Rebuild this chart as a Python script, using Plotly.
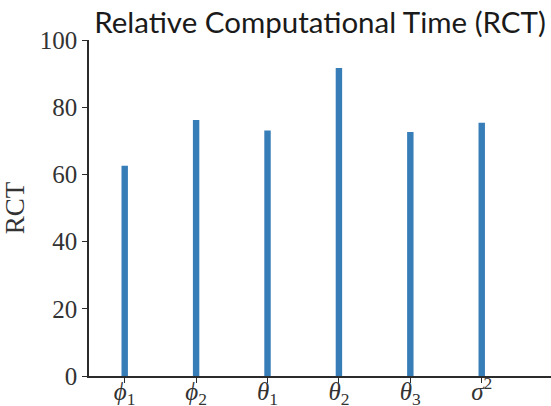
import plotly.graph_objects as go

categories = ["ϕ1", "ϕ2", "θ1", "θ2", "θ3", "σ2"]
tick_labels = ["<i>ϕ</i><sub>1</sub>", "<i>ϕ</i><sub>2</sub>", "<i>θ</i><sub>1</sub>",
               "<i>θ</i><sub>2</sub>", "<i>θ</i><sub>3</sub>", "<i>σ</i><sup>2</sup>"]
rct_values = [62.6, 76.2, 73.1, 91.7, 72.6, 75.4]
y_ticks = [0, 20, 40, 60, 80, 100]

positions = list(range(len(categories)))

serif = "Liberation Serif, Times New Roman, serif"
axis_color = "#2b2b2b"

fig = go.Figure()
fig.add_trace(go.Bar(
    x=positions, y=rct_values, width=0.09,
    marker=dict(color="#377eb8", line=dict(width=0)),
    showlegend=False,
))

fig.update_layout(
    width=551, height=406,
    margin=dict(l=89, r=0, t=40, b=30, autoexpand=False),
    paper_bgcolor="white", plot_bgcolor="white",
    title=dict(text="Relative Computational Time (RCT)",
               font=dict(family="Lato, sans-serif", size=29.5, color="#1a1a1a"),
               x=0.5, xref="paper", xanchor="center",
               y=1 - 23 / 406, yref="container", yanchor="middle"),
    xaxis=dict(range=[-0.5, 5.97], tickmode="array", tickvals=positions,
               ticktext=tick_labels, showline=True, linecolor=axis_color,
               linewidth=1.5, ticks="outside", ticklen=5, tickwidth=1.2,
               tickcolor=axis_color, showgrid=False, zeroline=False,
               automargin=False, ticklabelstandoff=-13,
               tickfont=dict(family=serif, size=25, color="#333333")),
    yaxis=dict(range=[0, 100], tickmode="array", tickvals=y_ticks,
               showline=True, linecolor=axis_color, linewidth=1.5,
               ticks="outside", ticklen=5, tickwidth=1.2, tickcolor=axis_color,
               showgrid=False, zeroline=False, automargin=False,
               tickfont=dict(family=serif, size=25, color="#333333"),
               title=dict(text="RCT", font=dict(family=serif, size=27, color="#333333"),
                          standoff=10)),
)

fig.write_html("out.html")
